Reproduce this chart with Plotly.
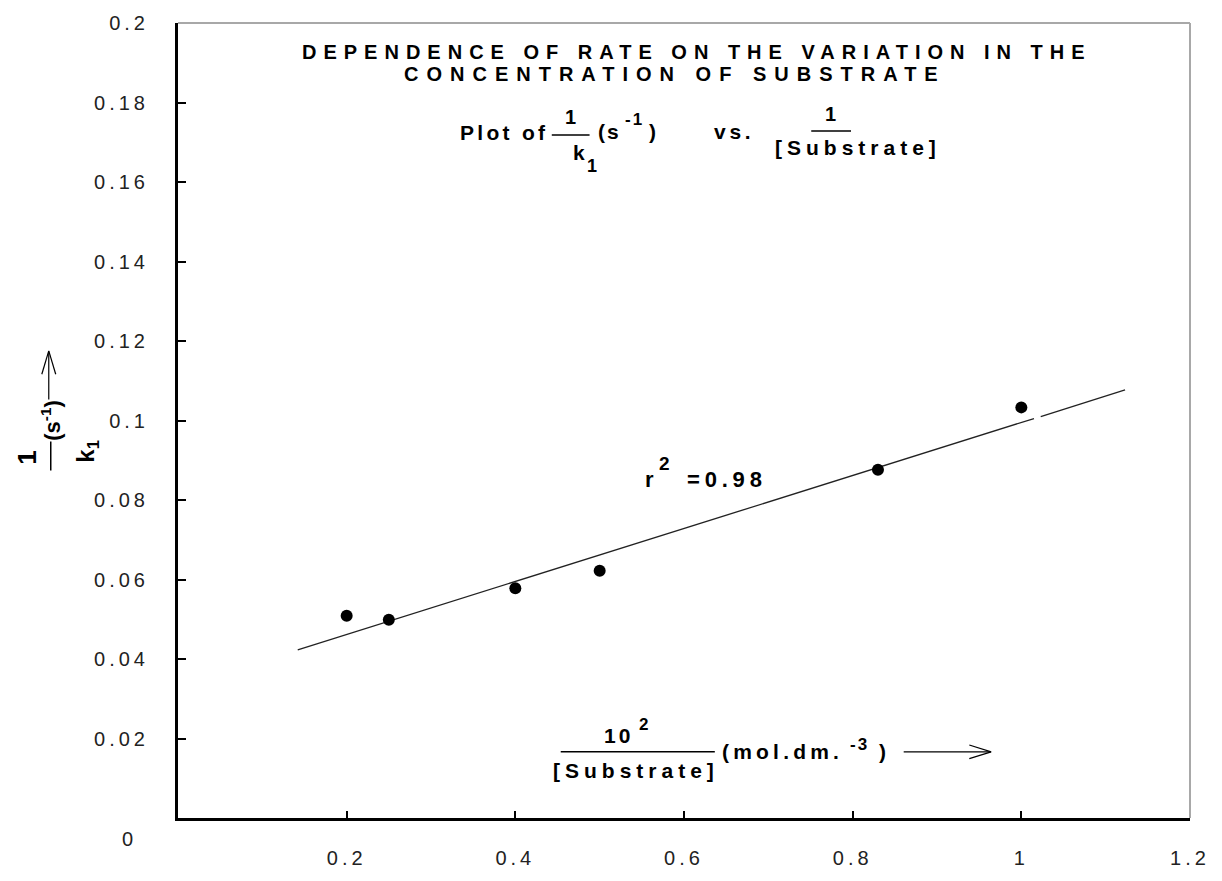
import plotly.graph_objects as go

# ---------------- data ----------------
X_INV_SUBSTRATE = [0.20, 0.25, 0.40, 0.50, 0.83, 1.00]
Y_INV_K1 = [0.0509, 0.0499, 0.0578, 0.0622, 0.0876, 0.1033]

FIT_X = [0.142, 1.015, None, 1.023, 1.123]
FIT_Y = [0.0423, 0.1005, None, 0.1010, 0.1077]

X_TICKS = [0.2, 0.4, 0.6, 0.8, 1.0, 1.2]
X_TICK_LABELS = ["0.2", "0.4", "0.6", "0.8", "1", "1.2"]
Y_TICKS = [0.02, 0.04, 0.06, 0.08, 0.10, 0.12, 0.14, 0.16, 0.18, 0.20]
Y_TICK_LABELS = ["0.02", "0.04", "0.06", "0.08", "0.1", "0.12", "0.14", "0.16", "0.18", "0.2"]

# ---------------- geometry helpers ----------------
W, H = 1222, 881
L, R, T, B = 178, 1196, 23, 840


def px(x):
    return (x - L) / (R - L)


def py(y):
    return (B - y) / (B - T)


FONT = "Liberation Sans, Arial, sans-serif"


def sp(text, s):
    if not s:
        return text
    return f'<span style="letter-spacing:{s}px">{text}</span>'


fig = go.Figure()

fig.add_trace(go.Scatter(
    x=FIT_X, y=FIT_Y, mode="lines",
    line=dict(color="#222222", width=1.3),
    hoverinfo="skip",
))
fig.add_trace(go.Scatter(
    x=X_INV_SUBSTRATE, y=Y_INV_K1, mode="markers",
    marker=dict(color="black", size=12, line=dict(width=0)),
))

annotations = []


def ann(x, base, text, size=21, s=0, bold=True, color="black"):
    """x = visual centre of glyphs, base = baseline (pixels)."""
    cy = base - 0.3465 * size
    annotations.append(dict(
        x=px(x + s / 2.0), y=py(cy), xref="paper", yref="paper",
        text=sp(text, s), showarrow=False, xanchor="center", yanchor="middle",
        borderpad=0,
        font=dict(family=FONT, size=size, color=color,
                  weight="bold" if bold else "normal"),
    ))


def rot(x, y, text, size=22):
    annotations.append(dict(
        x=px(x), y=py(y), xref="paper", yref="paper",
        text=text, showarrow=False, xanchor="center", yanchor="middle",
        textangle=-90, borderpad=0,
        font=dict(family=FONT, size=size, color="black", weight="bold"),
    ))


# Title
ann(697, 59.5, "DEPENDENCE OF RATE ON THE VARIATION IN THE", size=20, s=7.0)
ann(674, 82, "CONCENTRATION OF SUBSTRATE", size=20, s=8.0)
# Plot of 1/k1 (s-1) vs. 1/[Substrate]
ann(504, 143, "Plot of", s=3.3)
ann(573, 127, "1", size=20)
ann(581, 163, "k", size=21)
ann(594, 176, "1", size=18)
ann(611, 142, "(s", s=2)
ann(636, 128, "-1", size=17, s=2)
ann(655, 142, ")")
ann(735, 142, "vs.", s=3.7)
ann(834, 123, "1", size=20)
ann(860, 158, "[Substrate]", s=5)
# r^2 = 0.98
ann(652.5, 500, "r", size=22)
ann(667.5, 482, "2", size=19)
ann(728, 500, "=0.98", size=22, s=4.8)
# x label
ann(620, 762, "10", size=21, s=3)
ann(646, 750, "2", size=17)
ann(636, 798, "[Substrate]", s=5)
ann(783.5, 779, "(mol.dm.", s=4.2)
ann(863, 770, "-3", size=17, s=2)
ann(887, 779, ")")
# y label (rotated)
rot(26, 470, "1", size=26)
rot(87, 463, "k<sub>1</sub>", size=24)
rot(50, 431, "(s<sup>-1</sup>)", size=22)
# origin label
ann(127, 869, "0", size=20, bold=False, color="#222222")

shapes = []


def seg(x0, y0, x1, y1, color="black", width=1.5):
    shapes.append(dict(type="line", xref="paper", yref="paper",
                       x0=px(x0), y0=py(y0), x1=px(x1), y1=py(y1),
                       line=dict(color=color, width=width)))


# grey frame top/right
seg(L, T, R, T, color="#a8a8a8", width=2)
seg(R, T, R, B, color="#a8a8a8", width=2)
# fraction bars
seg(554, 138, 592, 138)
seg(815, 134, 855, 134)
seg(563, 772, 718, 772)
seg(50, 453, 50, 483)
# x label arrow
seg(908, 772, 995, 772, width=1.2)
seg(974, 765, 996, 772, width=1.2)
seg(974, 779, 996, 772, width=1.2)
# y label arrow
seg(48, 410, 48, 361, width=1.2)
seg(41, 384, 48, 360, width=1.2)
seg(55, 384, 48, 360, width=1.2)

TICKFONT = dict(family=FONT, size=20, color="#222222")

fig.update_layout(
    width=W, height=H,
    margin=dict(l=L, r=W - R, t=T, b=H - B, pad=0),
    paper_bgcolor="white", plot_bgcolor="white",
    showlegend=False,
    annotations=annotations,
    shapes=shapes,
    xaxis=dict(
        range=[0, 1.2], tickmode="array", tickvals=X_TICKS,
        ticktext=[sp(t, 4) for t in X_TICK_LABELS],
        ticks="inside", ticklen=7, tickwidth=2, tickcolor="black",
        showline=True, linewidth=3, linecolor="black",
        showgrid=False, zeroline=False,
        tickfont=TICKFONT,
        ticklabelstandoff=20,
    ),
    yaxis=dict(
        range=[0, 0.2], tickmode="array", tickvals=Y_TICKS,
        ticktext=[sp(t, 4) for t in Y_TICK_LABELS],
        ticks="inside", ticklen=8, tickwidth=2, tickcolor="black",
        showline=True, linewidth=3, linecolor="black",
        showgrid=False, zeroline=False,
        tickfont=TICKFONT,
        ticklabelstandoff=22,
    ),
)

fig.write_html("out.html")
